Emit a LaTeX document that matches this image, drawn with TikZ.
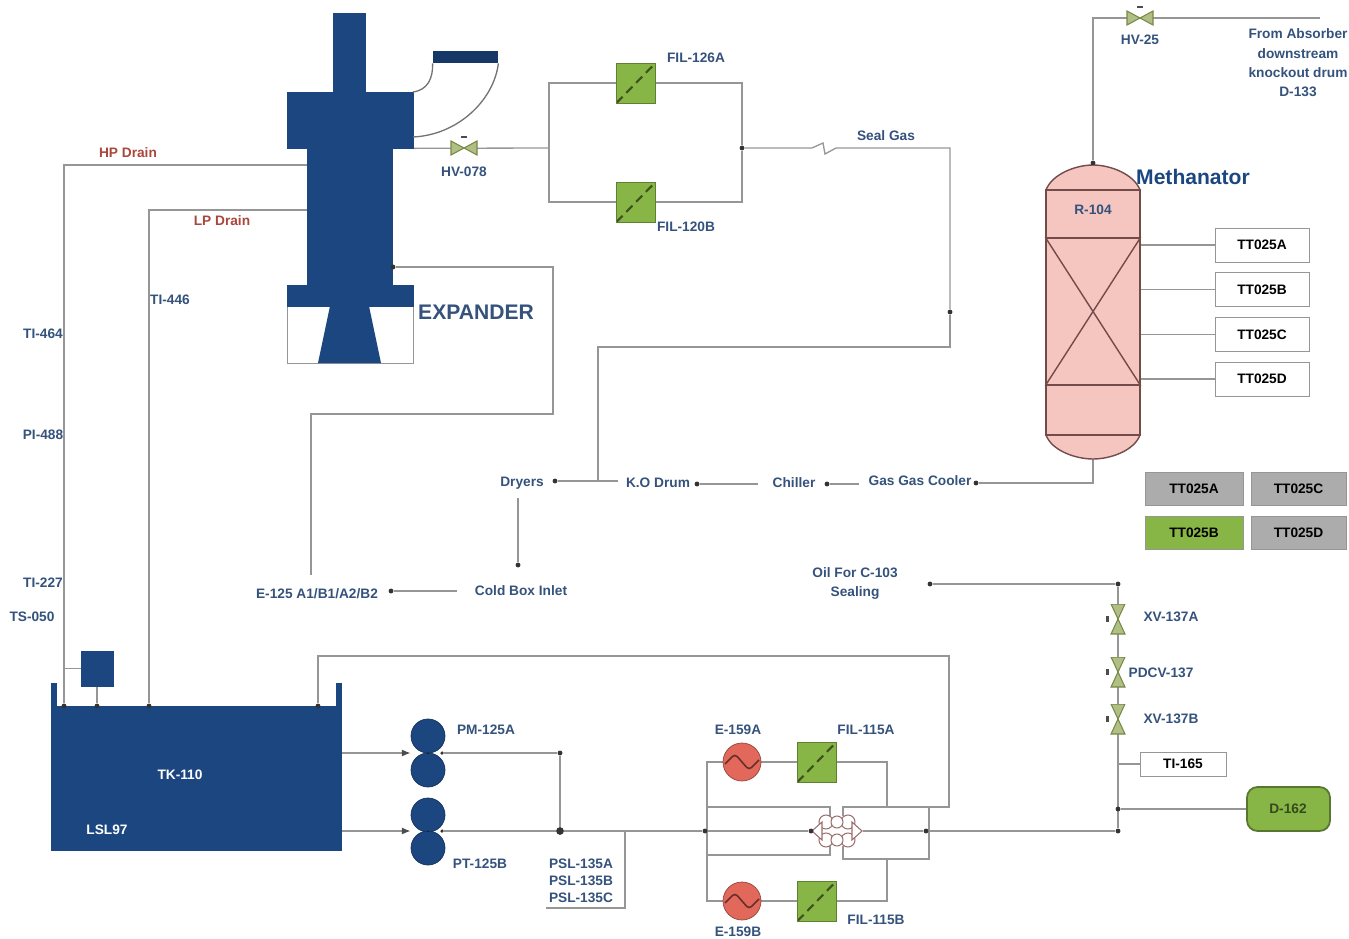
\documentclass[tikz,border=0pt]{standalone}
\usepackage{fontspec}
\usepackage{xcolor}
\usepackage{tikz}
\setmainfont{Liberation Sans}
\usetikzlibrary{arrows.meta, positioning, calc}
\pgfdeclarelayer{pipelayer}
\pgfsetlayers{pipelayer,main}
\definecolor{plantblue}{RGB}{28,70,128}
\definecolor{labelblue}{RGB}{52,82,124}
\definecolor{pipegray}{RGB}{150,150,150}
\definecolor{drainred}{RGB}{170,70,60}
\definecolor{filtergreen}{RGB}{136,182,70}
\definecolor{valvegreen}{RGB}{150,170,90}
\definecolor{heatred}{RGB}{226,104,92}
\definecolor{reactorpink}{RGB}{245,198,192}
\definecolor{reactorline}{RGB}{115,75,75}
\definecolor{tagfill}{RGB}{172,172,172}

\begin{document}
\begin{tikzpicture}[
    x=0.02cm, y=-0.02cm,
    sz/.style 2 args={minimum width=#1*0.02cm, minimum height=#2*0.02cm},
    equip/.style={rectangle, draw=plantblue, fill=plantblue, inner sep=0pt},
    shell/.style={rectangle, draw=pipegray, inner sep=0pt},
    pipe/.style={draw=pipegray, line width=0.75pt},
    arrow/.style={pipe, -{Latex[length=5pt, width=4pt, color=black!70]}},
    junction/.style={circle, fill=black!80, inner sep=0pt, minimum size=2.8pt},
    lbl/.style={text=labelblue, font=\fontsize{7.8}{9.4}\selectfont\bfseries, align=center, inner sep=0pt},
    drain/.style={lbl, text=drainred},
    title/.style={lbl, font=\fontsize{12}{14}\selectfont\bfseries},
    tag/.style={rectangle, sz={94}{34}, inner sep=0pt, font=\fontsize{7.8}{9.4}\selectfont\bfseries, draw=pipegray},
    pump/.style={circle, draw=plantblue!70!black, fill=plantblue, inner sep=0pt, minimum size=34*0.02cm},
    filterbox/.style={rectangle, draw=filtergreen!70!black, fill=filtergreen, inner sep=0pt, sz={39}{40},
        path picture={
            \draw[black!55!filtergreen, line width=1.2pt, dash pattern=on 5pt off 3pt] (path picture bounding box.south west) -- (path picture bounding box.north east);
        }},
    heater/.style={circle, draw=heatred!65!black, fill=heatred, inner sep=0pt, minimum size=38*0.02cm,
        path picture={
            \draw[heatred!45!black, line width=0.9pt, rounded corners=2pt] (-17,2) -- (-7,-8) -- (7,8) -- (17,-2);
        }},
    valve/.style={rectangle, inner sep=0pt, sz={28}{26},
        path picture={
            \filldraw[fill=valvegreen!75!white, draw=valvegreen!80!black, line width=0.6pt] (-13,-7) -- (13,7) -- (13,-7) -- (-13,7) -- cycle;
            \fill[black!70] (-3,-12) rectangle (3,-10);
        }},
    xvalve/.style={rectangle, inner sep=0pt, sz={28}{30},
        path picture={
            \filldraw[fill=valvegreen!75!white, draw=valvegreen!80!black, line width=0.6pt] (-7,-15) -- (7,15) -- (-7,15) -- (7,-15) -- cycle;
            \fill[black!70] (-12,-3) rectangle (-9,3);
        }},
    lattice/.style={rectangle, inner sep=0pt, sz={52}{46},
        path picture={
            \foreach \lx in {-11,11} \foreach \ly in {-9,9}
                \filldraw[fill=white, draw=reactorline!70!reactorpink, line width=0.6pt] (\lx,\ly) circle[radius=7];
            \foreach \ly in {-9,9}
                \filldraw[fill=white, draw=reactorline!70!reactorpink, line width=0.6pt] (0,\ly) circle[radius=6];
            \filldraw[fill=white, draw=reactorline!70!reactorpink, line width=0.6pt] (-25,0) -- (-15,-9) -- (-15,9) -- cycle;
            \filldraw[fill=white, draw=reactorline!70!reactorpink, line width=0.6pt] (25,0) -- (15,-9) -- (15,9) -- cycle;
        }}
]
\useasboundingbox (0,0) rectangle (1349,939);

\node[shell, sz={126}{57}] (expbase) at (350,334.5) {};
\fill[plantblue] (330,306) -- (369,306) -- (381,363) -- (318,363) -- cycle;
\node[equip, sz={85}{140}] (expbody) at (349.5,216) {};
\node[equip, sz={126}{56}] (expblock) at (350,120) {};
\node[equip, sz={32}{104}] (expstack) at (349,65) {};
\node[equip, sz={126}{21}] (expflange) at (350,295.5) {};
\node[rectangle, fill=plantblue!80!black, inner sep=0pt, sz={65}{12}] (elbow) at (465.5,57) {};
\node[title] (expander) at (476,312) {EXPANDER};

\node[equip, sz={290}{144}] (tk) at (196,778) {};
\node[equip, sz={5}{24}] (tkearl) at (53.5,695) {};
\node[equip, sz={5}{24}] (tkearr) at (338.5,695) {};
\node[equip, sz={32}{35}] (lsl) at (97,668.5) {};
\node[lbl, text=white] (tklabel) at (180,775) {TK-110};
\node[lbl, text=white] (lsllabel) at (107,830) {LSL97};

\node[pump] (pma1) at (428,736) {};
\node[pump] (pma2) at (428,770) {};
\node[pump] (ptb1) at (428,815) {};
\node[pump] (ptb2) at (428,848) {};
\node[lbl] (pmalabel) at (486,730) {PM-125A};
\node[lbl] (ptblabel) at (480,864) {PT-125B};
\node[lbl] (psl) at (581,881) {PSL-135A\\[0.4pt]PSL-135B\\[0.4pt]PSL-135C};

\node[valve] (hv78) at (464,148) {};
\node[lbl, below=3pt of hv78] (hv78label) {HV-078};
\node[filterbox] (fil126a) at (636,83) {};
\node[filterbox] (fil120b) at (636,202) {};
\node[lbl] (fil126alabel) at (696,58) {FIL-126A};
\node[lbl] (fil120blabel) at (686,227) {FIL-120B};
\node[lbl] (seal) at (886,136) {Seal Gas};

\node[valve] (hv25) at (1140,18) {};
\node[lbl] (hv25label) at (1140,40) {HV-25};
\node[lbl] (absorber) at (1298,63) {From Absorber\\[1.6pt]downstream\\[1.6pt]knockout drum\\[1.6pt]D-133};

\draw[draw=reactorline, fill=reactorpink, line width=0.8pt] (1046,190) .. controls (1052,174) and (1076,165) .. (1093,165) .. controls (1110,165) and (1134,174) .. (1140,190) -- cycle;
\draw[draw=reactorline, fill=reactorpink, line width=0.8pt] (1046,435) .. controls (1052,451) and (1076,459) .. (1093,459) .. controls (1110,459) and (1134,451) .. (1140,435) -- cycle;
\node[rectangle, draw=reactorline, fill=reactorpink, line width=0.8pt, inner sep=0pt, sz={94}{245}] (r104) at (1093,312.5) {};
\node[rectangle, draw=reactorline, line width=0.8pt, inner sep=0pt, sz={94}{147}] (bed) at (1093,311.5) {};
\draw[draw=reactorline, line width=0.8pt] (bed.north west) -- (bed.south east);
\draw[draw=reactorline, line width=0.8pt] (bed.north east) -- (bed.south west);
\node[lbl] (r104label) at (1093,210) {R-104};
\node[title, text=plantblue] (methanator) at (1193,177) {Methanator};

\node[tag] (tta) at (1262,245) {TT025A};
\node[tag, below=0.2cm of tta] (ttb) {TT025B};
\node[tag, below=0.2cm of ttb] (ttc) {TT025C};
\node[tag, below=0.2cm of ttc] (ttd) {TT025D};
\node[tag, sz={98}{33}, fill=tagfill] (taga) at (1194,488.5) {TT025A};
\node[tag, sz={95}{33}, fill=tagfill] (tagc) at (1298.5,488.5) {TT025C};
\node[tag, sz={98}{33}, fill=filtergreen] (tagb) at (1194,532.5) {TT025B};
\node[tag, sz={95}{33}, fill=tagfill] (tagd) at (1298.5,532.5) {TT025D};

\node[lbl] (dryers) at (522,483) {Dryers};
\node[lbl] (kodrum) at (658,483) {K.O Drum};
\node[lbl] (chiller) at (794,483) {Chiller};
\node[lbl] (cooler) at (920,481) {Gas Gas Cooler};
\node[lbl] (coldbox) at (521,591) {Cold Box Inlet};
\node[lbl] (e125) at (317,594) {E-125 A1/B1/A2/B2};
\node[lbl] (oil) at (855,583) {Oil For C-103\\[1.4pt]Sealing};

\node[drain] (hpdrain) at (128,153) {HP Drain};
\node[drain] (lpdrain) at (222,221) {LP Drain};
\node[lbl] (ti446) at (170,300) {TI-446};
\node[lbl] (ti464) at (43,334) {TI-464};
\node[lbl] (pi488) at (43,435) {PI-488};
\node[lbl] (ti227) at (43,583) {TI-227};
\node[lbl] (ts050) at (32,617) {TS-050};

\node[heater] (e159a) at (742,762) {};
\node[heater] (e159b) at (742,901) {};
\node[filterbox] (fil115a) at (817,762) {};
\node[filterbox] (fil115b) at (817,901) {};
\node[lbl] (e159alabel) at (738,730) {E-159A};
\node[lbl] (e159blabel) at (738,932) {E-159B};
\node[lbl] (fil115alabel) at (866,730) {FIL-115A};
\node[lbl] (fil115blabel) at (876,920) {FIL-115B};
\node[lattice] (pcv) at (837,831) {};

\node[xvalve] (xv137a) at (1118,619) {};
\node[xvalve] (pdcv) at (1118,672) {};
\node[xvalve] (xv137b) at (1118,719) {};
\node[lbl] (xv137alabel) at (1171,617) {XV-137A};
\node[lbl] (pdcvlabel) at (1161,673) {PDCV-137};
\node[lbl] (xv137blabel) at (1171,719) {XV-137B};
\node[tag, sz={86}{24}] (ti165) at (1183,764) {TI-165};
\node[rectangle, rounded corners=6pt, draw=filtergreen!65!black, fill=filtergreen, line width=1pt, inner sep=0pt, sz={83}{44}] (d162) at (1288.5,809) {};
\node[lbl, text=black!60!filtergreen] (d162label) at (1288,809) {D-162};

\node[junction] (tkhp) at (64,706) {};
\node[junction] (tklsl) at (97,706) {};
\node[junction] (tklp) at (149,706) {};
\node[junction] (tkret) at (318,706) {};
\node[junction] (dexp) at (393,267) {};
\node[junction] (dfil) at (742,148) {};
\node[junction] (dseal) at (950,312) {};
\node[junction] (dtop) at (1093,163) {};
\node[junction] (dcooler) at (976,483) {};
\node[junction] (dchiller) at (827,484) {};
\node[junction] (dko) at (697,484) {};
\node[junction] (ddryers) at (555,481) {};
\node[junction] (dcold) at (518,565) {};
\node[junction] (de125) at (391,591) {};
\node[junction] (doil) at (930,584) {};
\node[junction] (doiltop) at (1118,584) {};
\node[junction] (dpump) at (560,753) {};
\node[junction, minimum size=4.4pt] (dmain) at (560,831) {};
\node[junction, minimum size=2pt] (pmaout) at (442,753) {};
\node[junction, minimum size=2pt] (ptbout) at (442,831) {};
\node[junction] (dleft) at (705,831) {};
\node[junction] (dpcv) at (811,831) {};
\node[junction] (dright) at (926,831) {};
\node[junction] (dvessel) at (1118,809) {};
\node[junction] (dend) at (1118,831) {};

\coordinate (hpout) at (307,165);
\coordinate (lpout) at (307,210);
\coordinate (elbin) at (413,92);
\coordinate (elbout) at (413,137);
\coordinate (filin) at (549,148);
\coordinate (e125up) at (311,575);
\coordinate (cold1) at (553,414);
\coordinate (sealup) at (598,481);
\coordinate (seal1) at (950,347);
\coordinate (back1) at (949,656);
\coordinate (back2) at (949,807);
\coordinate (pcvtl) at (830,816);
\coordinate (pcvtr) at (843,816);
\coordinate (pcvbl) at (830,846);
\coordinate (pcvbr) at (843,846);
\coordinate (retr) at (929,859);
\coordinate (pslout) at (625,831);
\coordinate (pslend) at (546,908);
\coordinate (absend) at (1320,18);
\coordinate (heatl1) at (707,762);
\coordinate (heatl2) at (707,901);
\coordinate (hoty) at (887,807);
\coordinate (hotz) at (887,859);
\coordinate (toptee) at (707,807);
\coordinate (bottee) at (707,855);

\draw[pipe, draw=black!55] (elbow.south west) .. controls (433,78) and (428,90) .. (elbin);
\draw[pipe, draw=black!55] (elbow.south east) .. controls (494,100) and (458,135) .. (elbout);
\draw[plantblue!50!black, line width=1.4pt] (pma1.south) -- (pma2.north);
\draw[plantblue!50!black, line width=1.4pt] (ptb1.south) -- (ptb2.north);

\begin{pgfonlayer}{pipelayer}
\draw[pipe] (hpout) -| (tkhp);
\draw[pipe] (lpout) -| (tklp);
\draw[pipe] (lsl.south) -- (tklsl);
\draw[pipe] (lsl.west) -- (lsl.west -| tkhp);
\draw[pipe] (tkret) |- (back1) -- (back2) -| (pcvtr);
\draw[pipe] (expblock.south east) -- (filin);
\draw[pipe] (filin) |- (fil126a);
\draw[pipe] (filin) |- (fil120b);
\draw[pipe] (fil126a) -| (dfil);
\draw[pipe] (fil120b) -| (dfil);
\draw[pipe] (dfil) -- (812,148) -- (823,143) -- (825,154) -- (836,148) -| (dseal);
\draw[pipe] (dseal) -- (seal1) -| (sealup);
\draw[pipe] (dcooler) -| (r104.south |- 0,459);
\draw[pipe] ([xshift=-5.5pt]cooler.west |- dchiller) -- (dchiller);
\draw[pipe] ([xshift=-8pt]chiller.west |- dko) -- (dko);
\draw[pipe] ([xshift=-4.5pt]kodrum.west |- ddryers) -- (ddryers);
\draw[pipe] ([yshift=-5pt]dryers.south -| dcold) -- (dcold);
\draw[pipe] ([xshift=-10pt]coldbox.west) -- (de125);
\draw[pipe] (e125up) |- (cold1) |- (dexp);
\draw[pipe] (dtop) |- (absend);
\draw[pipe] (bed.east |- tta) -- (tta);
\draw[pipe] (bed.east |- ttb) -- (ttb);
\draw[pipe] (bed.east |- ttc) -- (ttc);
\draw[pipe] (bed.east |- ttd) -- (ttd);
\draw[pipe] (doil) -- (doiltop);
\draw[pipe] (doiltop) -- (dend);
\draw[pipe] (dvessel |- ti165) -- (ti165);
\draw[pipe] (dvessel) -- (d162);
\draw[arrow] (tk.east |- dpump) -- (pmaout -| pma1.west);
\draw[arrow] (tk.east |- dmain) -- (ptbout -| ptb1.west);
\draw[pipe] (pmaout) -- (dpump);
\draw[pipe] (ptbout) -- (dmain);
\draw[pipe] (dpump) -- (dmain);
\draw[pipe] (dmain) -- (dleft);
\draw[pipe] (dleft) -- (dpcv);
\draw[pipe] (pslout) |- (pslend);
\draw[pipe] (pcv.east) -- (dright);
\draw[pipe] (dright) -- (dend);
\draw[pipe] (e159a) -- (heatl1) -- (heatl2) -- (e159b);
\draw[pipe] (e159a) -- (fil115a);
\draw[pipe] (e159b) -- (fil115b);
\draw[pipe] (fil115a) -| (hoty);
\draw[pipe] (fil115b) -| (hotz);
\draw[pipe] (toptee) -| (pcvtl);
\draw[pipe] (bottee) -| (pcvbl);
\draw[pipe] (pcvbr) |- (retr) -- (retr |- back2);
\end{pgfonlayer}
\end{tikzpicture}
\end{document}
